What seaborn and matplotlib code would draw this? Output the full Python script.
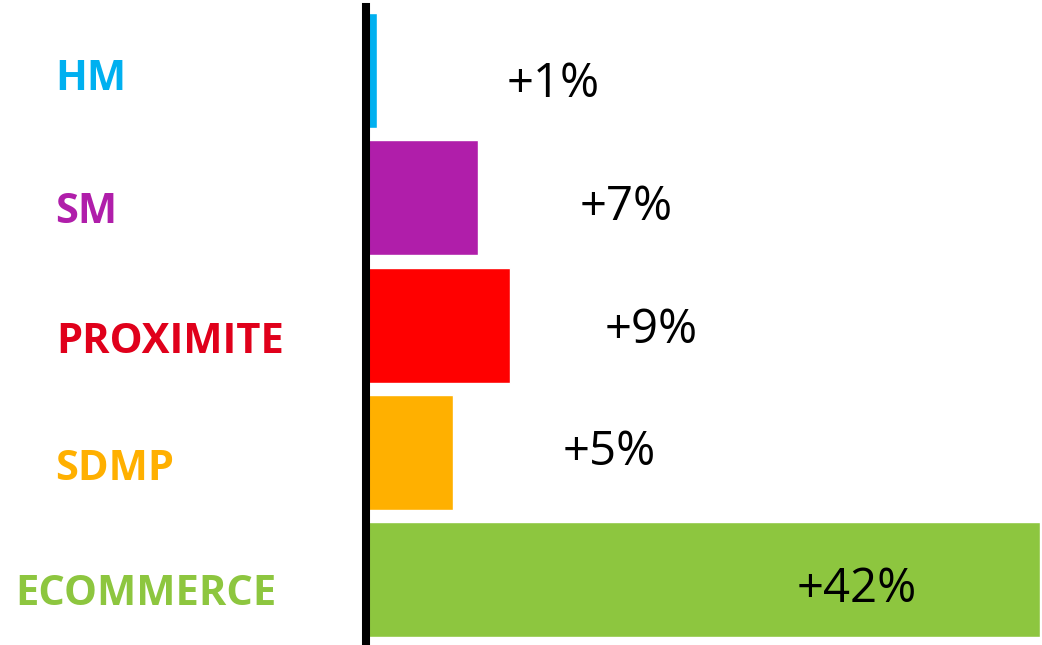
import matplotlib
matplotlib.use("Agg")
import matplotlib.pyplot as plt
import seaborn as sns
import pandas as pd

# ---- data ----
categories = ["HM", "SM", "PROXIMITE", "SDMP", "ECOMMERCE"]
bar_values = [0.7, 7.0, 9.0, 5.4, 42.0]
value_labels = ["+1%", "+7%", "+9%", "+5%", "+42%"]

# ---- styles / layout ----
bar_colors = ["#00B0F0", "#B01EAA", "#FF0000", "#FFB000", "#8DC63F"]
label_colors = ["#00B0F0", "#B01EAA", "#E0001B", "#FFB000", "#8DC63F"]
W, H = 1042, 645
cat_x_px = [55, 55, 56, 55, 15]
cat_base_px = [90, 223, 353, 480, 605]
val_x_px = [507, 580, 605, 563, 797]
val_base_px = [97, 220, 343, 465, 602]

sns.set_theme(style="white")
plt.rcParams["font.family"] = ["Open Sans", "DejaVu Sans"]

fig = plt.figure(figsize=(W / 100, H / 100), dpi=100)
ax = fig.add_axes([366 / W, 0, (1040 - 366) / W, 1 - 7 / H])

df = pd.DataFrame({"cat": categories, "val": bar_values})
sns.barplot(data=df, x="val", y="cat", hue="cat", palette=bar_colors,
            orient="h", width=0.904, saturation=1, legend=False, ax=ax)

ax.set_xlim(0, 42)
ax.set_ylim(4.515, -0.5)
ax.set_xlabel("")
ax.set_ylabel("")
ax.set_xticks([])
ax.set_yticks([])
for s in ["top", "right", "bottom"]:
    ax.spines[s].set_visible(False)
ax.spines["left"].set_color("black")
ax.spines["left"].set_linewidth(5.8)
ax.spines["left"].set_zorder(5)

for i, c in enumerate(categories):
    fig.text(cat_x_px[i] / W, 1 - cat_base_px[i] / H, c, color=label_colors[i],
             fontsize=30, fontweight="bold", ha="left", va="baseline",
             family=["Open Sans", "DejaVu Sans"])

for i, t in enumerate(value_labels):
    fig.text(val_x_px[i] / W, 1 - val_base_px[i] / H, t, color="black",
             fontsize=34, ha="left", va="baseline",
             family=["Open Sans", "DejaVu Sans"])

fig.savefig("out.png", dpi=100)
